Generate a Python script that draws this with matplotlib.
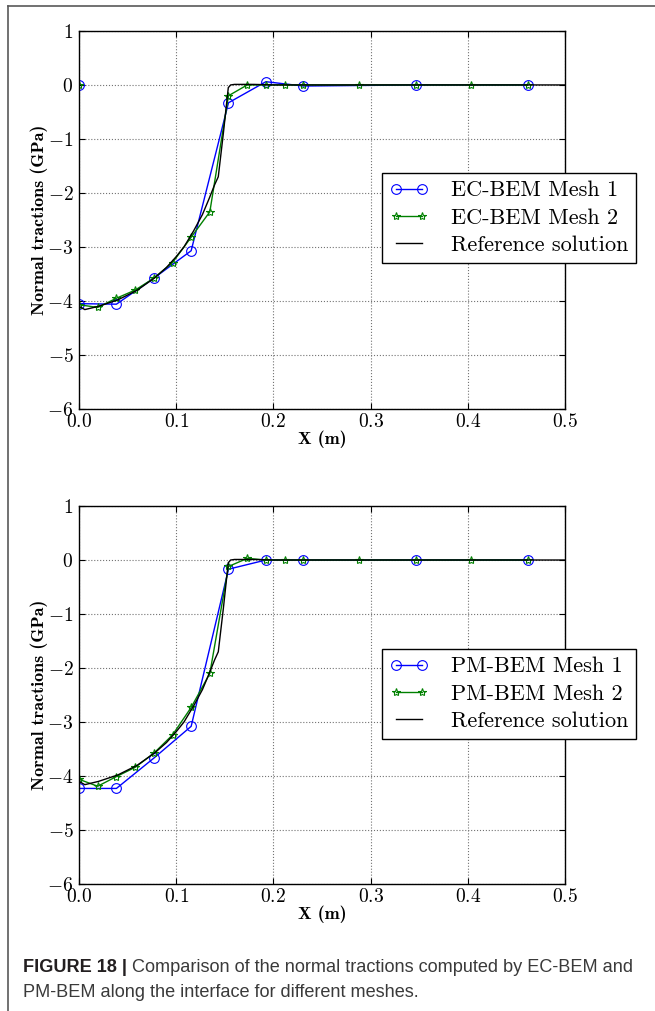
import matplotlib
matplotlib.use("Agg")
import matplotlib.pyplot as plt
from matplotlib.lines import Line2D

plt.rcParams.update({
    "font.family": "serif",
    "font.serif": ["cmr10"],
    "mathtext.fontset": "cm",
    "axes.formatter.use_mathtext": True,
    "axes.linewidth": 1.0,
    "xtick.direction": "in",
    "ytick.direction": "in",
    "xtick.top": True,
    "ytick.right": True,
    "xtick.major.size": 4,
    "ytick.major.size": 4,
    "xtick.major.pad": 3,
    "ytick.major.pad": 4,
    "xtick.labelsize": 14,
    "ytick.labelsize": 14,
})

# reference solution (same in both panels)
ref_x = [0.0, 0.006, 0.02, 0.04, 0.06, 0.078, 0.09, 0.1, 0.108, 0.118, 0.127,
         0.134, 0.1395, 0.1433, 0.1485, 0.1536, 0.156, 0.16, 0.18, 0.2, 0.5]
ref_y = [-4.1, -4.16, -4.1, -3.98, -3.8, -3.57, -3.38, -3.18, -3.0, -2.7, -2.4,
         -2.1, -1.85, -1.7, -0.9, -0.05, 0.0, 0.01, 0.01, 0.0, 0.0]

# mesh node positions
mesh1_x = [0.0, 0.0385, 0.0769, 0.1154, 0.1538, 0.1923, 0.2308, 0.3462, 0.4615]
mesh2_x = [0.0, 0.0192, 0.0385, 0.0577, 0.0769, 0.0962, 0.1154, 0.1346, 0.1538,
           0.1731, 0.1923, 0.2115, 0.2308, 0.2885, 0.3462, 0.4038, 0.4615]

# EC-BEM (top panel)
ec_mesh1 = [-4.05, -4.06, -3.58, -3.07, -0.33, 0.06, -0.02, 0.0, 0.0]
ec_mesh2 = [-4.07, -4.12, -3.95, -3.8, -3.58, -3.29, -2.82, -2.35, -0.2,
            0.0, 0.0, 0.0, 0.0, 0.0, 0.0, 0.0, 0.0]

# PM-BEM (bottom panel)
pm_mesh1 = [-4.23, -4.23, -3.67, -3.08, -0.17, 0.0, 0.0, 0.0, 0.0]
pm_mesh2 = [-4.06, -4.19, -4.01, -3.84, -3.58, -3.24, -2.73, -2.1, -0.12,
            0.03, 0.0, 0.0, 0.0, 0.0, 0.0, 0.0, 0.0]

ec_labels = ["EC-BEM Mesh 1", "EC-BEM Mesh 2", "Reference solution"]
pm_labels = ["PM-BEM Mesh 1", "PM-BEM Mesh 2", "Reference solution"]

fig = plt.figure(figsize=(6.55, 10.11), dpi=100)
fig.patch.set_facecolor("white")


def panel(rect, m1, m2, labels, anchor, stray=False):
    ax = fig.add_axes(rect)
    ax.plot(mesh1_x, m1, color="b", lw=1.0, marker="o", ms=7,
            mfc="none", mec="b", mew=0.8, label=labels[0])
    ax.plot(mesh2_x, m2, color="g", lw=1.0, marker="*", ms=6,
            mfc="none", mec="g", mew=0.8, label=labels[1])
    ax.plot(ref_x, ref_y, color="k", lw=1.0, label=labels[2])
    if stray:
        # lone markers sitting at the origin in the original figure
        ax.plot([0.0], [0.0], ls="none", marker="o", ms=7, mfc="none",
                mec="b", mew=0.8)
        ax.plot([0.0], [0.0], ls="none", marker="*", ms=6, mfc="none",
                mec="g", mew=0.8)
    ax.set_xlim(0, 0.5)
    ax.set_ylim(-6, 1)
    ax.set_xticks([0.0, 0.1, 0.2, 0.3, 0.4, 0.5])
    ax.set_xticklabels(["$0.0$", "$0.1$", "$0.2$", "$0.3$", "$0.4$", "$0.5$"])
    ax.set_yticks(range(-6, 2))
    ax.grid(True, color="0.45", ls=":", lw=0.8)
    ax.set_xlabel("X (m)", family="cmb10", fontsize=13)
    ax.set_ylabel("Normal tractions (GPa)", family="cmb10", fontsize=13)
    ax.xaxis.set_label_coords(0.5, -0.081)
    ax.xaxis.label.set_va("center")
    ax.yaxis.set_label_coords(-0.0823, 0.5)
    ax.yaxis.label.set_va("center")
    leg = ax.legend(loc="upper right", bbox_to_anchor=anchor,
                    bbox_transform=fig.transFigure, borderaxespad=0,
                    fontsize=16, fancybox=False, framealpha=1,
                    edgecolor="k", numpoints=2, handlelength=1.75,
                    borderpad=0.35, labelspacing=0.35, handletextpad=1.0)
    leg.get_frame().set_linewidth(1.0)
    return ax


panel([0.1206, 0.5955, 0.742, 0.3739], ec_mesh1, ec_mesh2, ec_labels,
      (0.971, 0.8289), stray=True)
panel([0.1206, 0.1256, 0.742, 0.3739], pm_mesh1, pm_mesh2, pm_labels,
      (0.971, 0.3581))

# page frame lines
fig.add_artist(Line2D([8 / 655, 1.0], [1 - 6 / 1011] * 2, color="0.35", lw=1.2))
fig.add_artist(Line2D([8 / 655] * 2, [0.0, 1 - 6 / 1011], color="0.35", lw=1.2))

# caption
cap = fig.add_axes([0, 0, 1, 1])
cap.axis("off")
cap.set_xlim(0, 655)
cap.set_ylim(1011, 0)
t1 = cap.text(23, 972, "FIGURE 18 |", family="Liberation Sans",
              fontweight="bold", fontsize=13.1, color="#231f20",
              va="baseline")
cap.annotate(" Comparison of the normal tractions computed by EC-BEM and",
             xy=(1, 0), xycoords=t1, va="bottom", ha="left",
             family="Liberation Sans", fontsize=13.1, color="#3a3a3a")
cap.text(23, 997, "PM-BEM along the interface for different meshes.",
         family="Liberation Sans", fontsize=13.1, color="#3a3a3a",
         va="baseline")

fig.savefig("out.png", dpi=100, facecolor="white")
